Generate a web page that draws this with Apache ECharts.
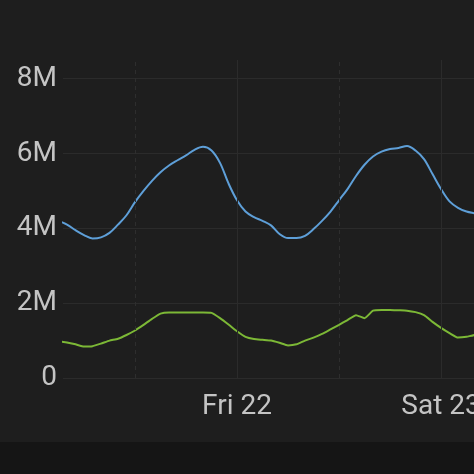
<!DOCTYPE html>
<html>
<head>
<meta charset="utf-8">
<script src="https://cdn.jsdelivr.net/npm/echarts@6/dist/echarts.min.js"></script>
<style>
html,body{margin:0;padding:0;background:#1e1e1e;}
#chart{width:474px;height:474px;}
</style>
</head>
<body>
<div id="chart"></div>
<script>
// hours since Thu 21 00:00
const hours = [3,4,5,6,7,8,9,10,11,12,13,14,15,16,17,18,19,20,21,22,23,24,25,26,27,28,29,30,31,32,33,34,35,36,37,38,39,40,41,42,43,44,45,46,47,48,49,50,51,52,53];
// values in millions
const blueSeries = [4.2,4.1,3.95,3.82,3.73,3.76,3.88,4.1,4.35,4.7,5.0,5.27,5.5,5.68,5.82,5.95,6.1,6.18,6.08,5.75,5.2,4.75,4.45,4.3,4.2,4.08,3.85,3.74,3.74,3.8,3.98,4.2,4.45,4.75,5.05,5.4,5.7,5.92,6.05,6.12,6.15,6.2,6.08,5.85,5.45,5.05,4.72,4.55,4.45,4.4,4.35];
const greenSeries = [0.98,0.95,0.9,0.84,0.85,0.92,1.0,1.05,1.15,1.27,1.42,1.58,1.72,1.75,1.75,1.75,1.75,1.75,1.74,1.6,1.43,1.25,1.1,1.04,1.02,1.0,0.94,0.87,0.9,1.0,1.08,1.18,1.3,1.42,1.55,1.68,1.6,1.8,1.82,1.82,1.81,1.8,1.76,1.68,1.5,1.34,1.2,1.08,1.1,1.15,1.15];
const dayTicks = [24, 48];
const dayLabels = ['Fri 22', 'Sat 23'];
const noonTicks = [12, 36];
const yTicks = [0, 2, 4, 6, 8];

const blueData = hours.map((h, i) => [h, blueSeries[i]]);
const greenData = hours.map((h, i) => [h, greenSeries[i]]);

const chart = echarts.init(document.getElementById('chart'));
const textStyle = {color: '#c4c4c4', fontSize: 28, fontFamily: 'Roboto'};
chart.setOption({
  backgroundColor: '#1e1e1e',
  animation: false,
  graphic: [{
    type: 'rect', left: 0, top: 442, shape: {width: 474, height: 32},
    style: {fill: '#151515'}, z: -1
  }],
  grid: {left: 63, top: 60, right: 0, height: 318, outerBoundsMode: 'none', containLabel: false},
  xAxis: {
    type: 'value', min: 3.53, max: 51.88,
    axisLine: {show: false}, axisTick: {show: false},
    splitLine: {show: false},
    axisLabel: Object.assign({
      customValues: dayTicks, margin: 15, hideOverlap: false,
      formatter: v => { const i = dayTicks.indexOf(v); return i >= 0 ? dayLabels[i] : ''; }
    }, textStyle)
  },
  yAxis: {
    type: 'value', min: 0, max: 8.5, interval: 2,
    axisLine: {show: false}, axisTick: {show: false},
    splitLine: {show: true, showMaxLine: false, lineStyle: {color: '#2b2b2b', width: 1}},
    axisLabel: Object.assign({
      margin: 6, showMaxLabel: false,
      formatter: v => yTicks.indexOf(v) < 0 ? '' : (v === 0 ? '0' : v + 'M')
    }, textStyle)
  },
  series: [
    {
      type: 'line', data: blueData, smooth: 0.35, showSymbol: false,
      lineStyle: {color: '#5e9fd8', width: 2}, itemStyle: {color: '#5e9fd8'},
      markLine: {
        silent: true, symbol: 'none', label: {show: false},
        data: dayTicks.map(v => ({xAxis: v, lineStyle: {color: '#2b2b2b', type: 'solid', width: 1}}))
          .concat(noonTicks.map(v => ({xAxis: v, lineStyle: {color: '#2e2e2e', type: [4, 4], width: 1}})))
      },
      z: 3
    },
    {
      type: 'line', data: greenData, smooth: 0.15, showSymbol: false,
      lineStyle: {color: '#7cb836', width: 2}, itemStyle: {color: '#7cb836'},
      z: 3
    }
  ]
});
</script>
</body>
</html>
